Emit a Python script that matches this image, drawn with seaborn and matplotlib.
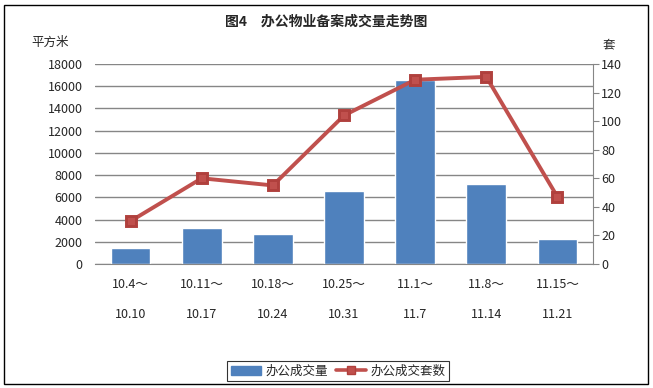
import matplotlib
matplotlib.use("Agg")
import matplotlib.pyplot as plt
from matplotlib.patches import Patch, Rectangle
from matplotlib.lines import Line2D
import seaborn as sns
import pandas as pd

# data
periods     = ["10.4～\n\n10.10", "10.11～\n\n10.17", "10.18～\n\n10.24", "10.25～\n\n10.31",
               "11.1～\n\n11.7", "11.8～\n\n11.14", "11.15～\n\n11.21"]
area_sqm    = [1440, 3240, 2700, 6570, 16560, 7200, 2220]
units_count = [30, 60, 55, 104, 129, 131, 47]

left_ticks  = [0, 2000, 4000, 6000, 8000, 10000, 12000, 14000, 16000, 18000]
right_ticks = [0, 20, 40, 60, 80, 100, 120, 140]

BAR_COLOR  = "#4F81BD"
LINE_COLOR = "#C0504D"
GRID_COLOR = "#868686"

sns.set_style("white")
plt.rcParams["font.family"] = ["Noto Sans CJK SC", "DejaVu Sans"]

df = pd.DataFrame({"period": periods, "area": area_sqm, "units": units_count})

fig = plt.figure(figsize=(6.53, 3.88), dpi=100)
ax = fig.add_axes([95 / 653, 1 - 264 / 388, 498 / 653, 200 / 388])

sns.barplot(data=df, x="period", y="area", color=BAR_COLOR, saturation=1,
            width=0.56, ax=ax, zorder=2)
ax.set_ylim(0, 18000)
ax.set_yticks(left_ticks)
ax.set_xlabel("")
ax.set_ylabel("")
ax.grid(axis="y", color=GRID_COLOR, linewidth=1, zorder=0)
ax.set_axisbelow(True)
for side in ["left", "top", "right"]:
    ax.spines[side].set_visible(False)
ax.spines["bottom"].set_color(GRID_COLOR)
ax.tick_params(axis="y", length=0, pad=9, labelsize=9)
ax.tick_params(axis="x", length=0, pad=10, labelsize=9)
for lbl in ax.get_xticklabels():
    lbl.set_linespacing(1.2)

ax2 = ax.twinx()
sns.pointplot(data=df, x="period", y="units", color=LINE_COLOR, markers="s",
              linestyles="-", markersize=7, linewidth=2.8,
              markeredgecolor="#B0403D", ax=ax2)
ax2.set_ylim(0, 140)
ax2.set_yticks(right_ticks)
ax2.set_xlim(-0.5, 6.5)
ax.set_xlim(-0.5, 6.5)
ax2.set_ylabel("")
ax2.set_xlabel("")
for side in ["left", "top", "bottom"]:
    ax2.spines[side].set_visible(False)
ax2.spines["right"].set_color(GRID_COLOR)
ax2.tick_params(axis="y", direction="out", length=4, color=GRID_COLOR, pad=2, labelsize=9)

fig.text(0.5, 1 - 22 / 388, "图4　办公物业备案成交量走势图", ha="center", va="center",
         fontsize=10, fontweight="bold")
fig.text(50 / 653, 1 - 42 / 388, "平方米", ha="center", va="center", fontsize=9)
fig.text(609 / 653, 1 - 45 / 388, "套", ha="center", va="center", fontsize=9)

handles = [Patch(facecolor=BAR_COLOR, edgecolor=BAR_COLOR),
           Line2D([0], [0], color=LINE_COLOR, linewidth=2.6, marker="s", markersize=6,
                  markeredgecolor="#B0403D")]
leg = fig.legend(handles, ["办公成交量", "办公成交套数"], loc="center",
                 bbox_to_anchor=(338 / 653, 17 / 388), ncol=2, fontsize=9,
                 frameon=True, fancybox=False, handlelength=2.4, handletextpad=0.4,
                 columnspacing=0.6, borderpad=0.25)
leg.get_frame().set_edgecolor("black")
leg.get_frame().set_linewidth(0.8)

fig.patches.append(Rectangle((4 / 653, 4 / 388), 644 / 653, 379 / 388, transform=fig.transFigure,
                             fill=False, edgecolor="black", linewidth=1))

fig.savefig("out.png", dpi=100)
